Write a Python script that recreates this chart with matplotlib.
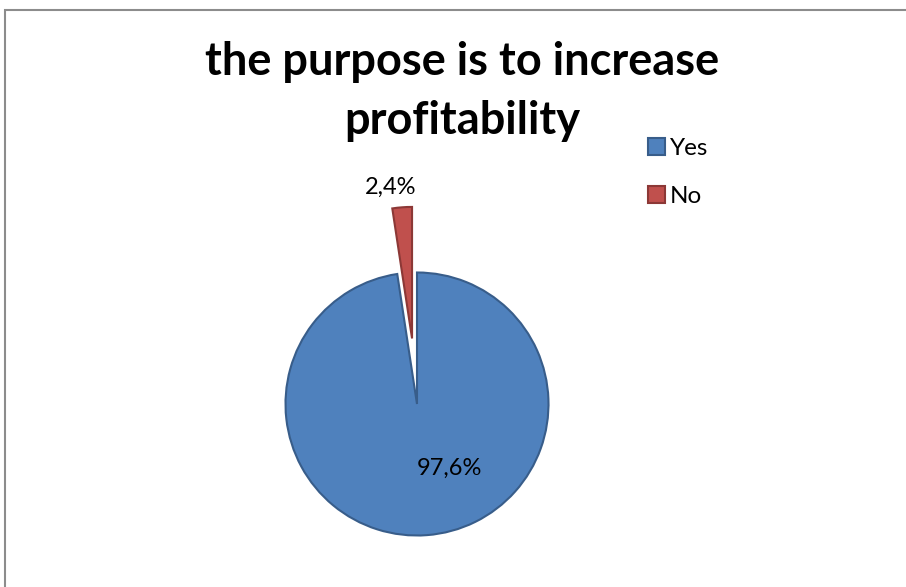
import matplotlib.pyplot as plt
import matplotlib.patches as mpatches

labels = ['Yes', 'No']
shares = [97.6, 2.4]
colors = ['#4F81BD', '#C0504D']
edges = ['#385D8A', '#8C3836']

W, H = 906, 587
cx, cy, r = 417, 404, 131.5

plt.rcParams['font.family'] = ['Lato', 'DejaVu Sans']

fig = plt.figure(figsize=(W / 100, H / 100), dpi=100)
ax = fig.add_axes([0, 0, 1, 1])

wedges, _ = ax.pie(shares, colors=colors, startangle=90, counterclock=False,
                   explode=[0, 0.5], radius=1,
                   wedgeprops=dict(linewidth=1.5))
for w, ec in zip(wedges, edges):
    w.set_edgecolor(ec)

# pie() resets the limits, so place the pie afterwards
ax.set_xlim(-cx / r, (W - cx) / r)
ax.set_ylim(-(H - cy) / r, cy / r)
ax.set_aspect('equal')
ax.axis('off')

# value labels
ax.text(0.25, -0.49, f'{shares[0]:.1f}%'.replace('.', ','), fontsize=17,
        ha='center', va='center')
ax.text(-0.20, 1.65, f'{shares[1]:.1f}%'.replace('.', ','), fontsize=17,
        ha='center', va='center')

fig.text(462 / W, 1 - 62 / H, 'the purpose is to increase', fontsize=32.5,
         fontweight='bold', ha='center', va='center')
fig.text(462 / W, 1 - 121 / H, 'profitability', fontsize=32.5,
         fontweight='bold', ha='center', va='center')

leg = ax.legend(wedges, labels, loc='upper left',
                bbox_to_anchor=(626 / W, 1 - 116 / H),
                bbox_transform=fig.transFigure, frameon=False,
                fontsize=17.5, handlelength=0.7, handleheight=0.7,
                handletextpad=0.2, labelspacing=1.12)

# chart area border
fig.patches.append(mpatches.Rectangle((4.5 / W, -0.1), 1.2, 1 - 9.5 / H + 0.1,
                                      transform=fig.transFigure, fill=False,
                                      edgecolor='#8C8C8C', linewidth=1.5))

fig.savefig('out.png', dpi=100)
